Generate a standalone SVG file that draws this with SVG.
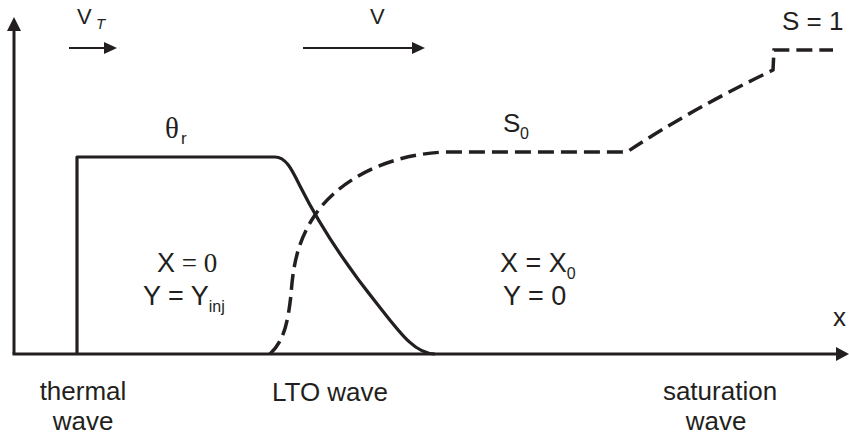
<svg xmlns="http://www.w3.org/2000/svg" width="849" height="438" viewBox="0 0 849 438">
<defs>
<style>
.t{font-family:"Liberation Sans",Arial,sans-serif;font-size:26px;fill:#231f20}
.m{font-size:27px}
.sub{font-size:16px}
.serif{font-family:"Liberation Serif","Times New Roman",serif}
.ax{stroke:#231f20;stroke-width:3;fill:none}
.sol{stroke:#231f20;stroke-width:3.2;fill:none;stroke-linejoin:round}
.dash{stroke:#231f20;stroke-width:3.5;fill:none;stroke-dasharray:16 7}
.arr{stroke:#231f20;stroke-width:2.2;fill:none}
.head{fill:#231f20}
</style>
</defs>
<rect width="849" height="438" fill="#ffffff"/>
<g id="axes">
<line class="ax" x1="14" y1="354" x2="14" y2="28"/>
<polygon class="head" points="14,17 7,31 21,31"/>
<line class="ax" x1="12.5" y1="354" x2="838" y2="354"/>
<polygon class="head" points="849,354 836,347 836,361"/>
</g>
<g id="velocity-arrows">
<line class="arr" x1="69" y1="48" x2="106" y2="48"/>
<polygon class="head" points="117,48 104,42 104,54"/>
<line class="arr" x1="303" y1="48" x2="414" y2="48"/>
<polygon class="head" points="425,48 412,42 412,54"/>
</g>
<g id="connectors">
<path id="theta-curve" class="sol" d="M77,354 V157 H275 C286,157 292,170 300,186 C318,222 345,264 378,305 C400,333 415,354 435,354"/>
<path id="saturation-curve" class="dash" d="M270,354 C285,340 288,320 291,295 C293,265 298,240 315,215 C335,185 380,155 445,152 L627,152 Q690,110 773,70 L774,50 L833,50"/>
</g>
<g id="labels">
<text class="t" x="77" y="24" style="font-size:22px">V<tspan x="96" y="29" style="font-size:15px;font-style:italic">T</tspan></text>
<text class="t" x="370" y="24" style="font-size:22px">V</text>
<text class="t serif" x="165" y="138" style="font-size:29px">θ<tspan x="181" y="144" style="font-family:'Liberation Sans',Arial,sans-serif;font-size:17px">r</tspan></text>
<text class="t" x="503" y="132">S<tspan class="sub" x="520" y="139">0</tspan></text>
<text class="t" x="782" y="30">S = 1</text>
<text class="t m" x="157" y="272">X<tspan class="serif"> = 0</tspan></text>
<text class="t m" x="143" y="305">Y = Y<tspan class="sub" y="312">inj</tspan></text>
<text class="t m" x="500" y="272">X = X<tspan class="sub" y="279">0</tspan></text>
<text class="t m" x="503" y="305">Y = 0</text>
<text class="t" x="833" y="326">x</text>
<text class="t" x="83" y="400" text-anchor="middle">thermal</text>
<text class="t" x="83" y="430" text-anchor="middle">wave</text>
<text class="t" x="330" y="401" text-anchor="middle">LTO wave</text>
<text class="t" x="720" y="400" text-anchor="middle">saturation</text>
<text class="t" x="716" y="430" text-anchor="middle">wave</text>
</g>
</svg>
